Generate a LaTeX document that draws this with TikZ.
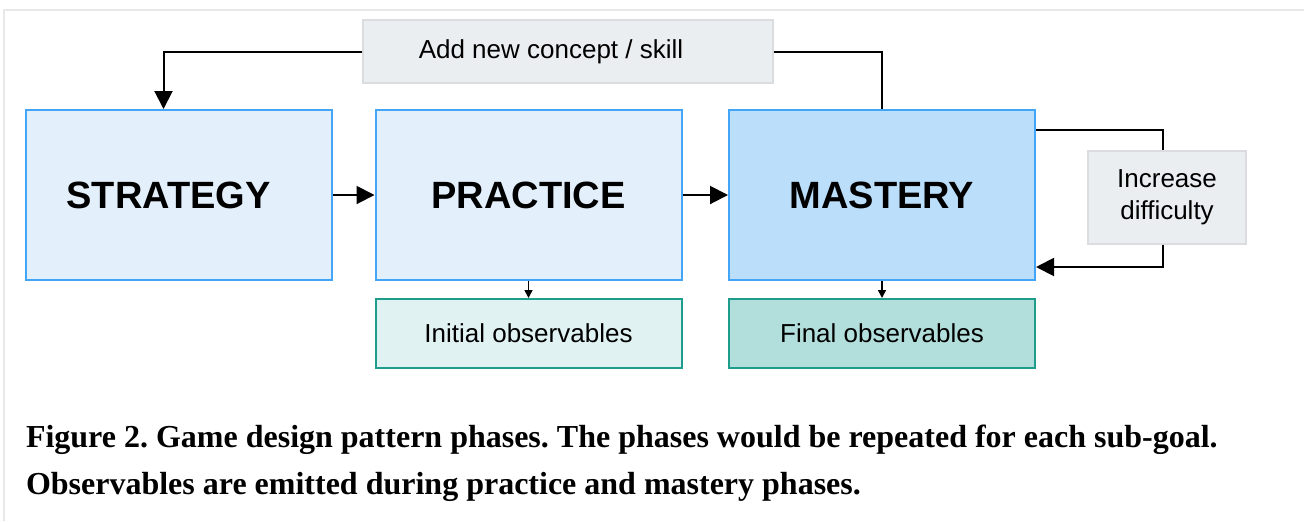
\documentclass[tikz,border=0pt]{standalone}
\usepackage{fontspec}
\setmainfont{Liberation Serif}
\setsansfont{Liberation Sans}
\usetikzlibrary{arrows.meta,positioning}

\definecolor{phaseedge}{HTML}{42A5F5}
\definecolor{stratfill}{HTML}{E3F0FC}
\definecolor{mastfill}{HTML}{BBDEFA}
\definecolor{obsedge}{HTML}{1E9C8C}
\definecolor{initfill}{HTML}{E0F2F1}
\definecolor{finalfill}{HTML}{B2DFDB}
\definecolor{notefill}{HTML}{EBEEF1}
\definecolor{noteedge}{HTML}{DADCDF}
\definecolor{framegray}{HTML}{E8E8E8}

\begin{document}
\frenchspacing
\begin{tikzpicture}[x=0.5pt,y=-0.5pt,line width=1pt,
	>={Triangle[length=9pt,width=9pt]},
	phase/.style={draw=phaseedge,line width=1pt,minimum width=153pt,minimum height=85pt,
		inner sep=0pt,font=\sffamily\bfseries\fontsize{19}{23}\selectfont},
	note/.style={draw=noteedge,fill=notefill,line width=0.6pt,inner sep=0pt,
		font=\sffamily\fontsize{13}{16}\selectfont},
	obs/.style={draw=obsedge,line width=1pt,minimum width=153pt,minimum height=34.5pt,
		inner sep=0pt,font=\sffamily\fontsize{13}{16}\selectfont},
	small/.style={-{Triangle[length=4pt,width=4pt]},line width=0.8pt}]
	
	\useasboundingbox (0,0) rectangle (1304,521);
	\draw[framegray,line width=1pt] (4,521) -- (4,10) -- (1304,10);
	
	\node[phase,fill=stratfill] (strategy) at (178.5,195) {\hspace*{-10pt}STRATEGY};
	\node[phase,fill=stratfill] (practice) at (528.5,195) {PRACTICE};
	\node[phase,fill=mastfill] (mastery) at (882,195) {MASTERY};
	\node[note,minimum width=205pt,minimum height=31.5pt] (concept) at (568,51.5) {\hspace*{-17pt}Add new concept / skill};
	\node[note,minimum width=79pt,minimum height=46.5pt,align=center] (difficulty) at (1167,197.5) {Increase\\difficulty};
	\node[obs,fill=initfill] (initial) at (528.5,333.5) {Initial observables};
	\node[obs,fill=finalfill] (final) at (882,333.5) {Final observables};
	
	\node[anchor=north west,align=left,inner sep=0pt,
		font=\bfseries\fontsize{16}{23.5}\selectfont] (caption) at (25,424)
		{Figure 2. Game design pattern phases. The phases would be repeated for each sub-goal.\\
		Observables are emitted during practice and mastery phases.};
	
	\draw[->] (strategy) -- (practice);
	\draw[->] (practice) -- (mastery);
	\draw (mastery.north) |- (concept.east);
	\draw[->] (concept.west) -| ([xshift=-7.5pt]strategy.north);
	\draw ([yshift=32.5pt]mastery.east) -| ([xshift=-2pt]difficulty.north);
	\draw[->] ([xshift=-2pt]difficulty.south) |- ([yshift=-36pt]mastery.east);
	\draw[small] (practice) -- (initial);
	\draw[small] (mastery) -- (final);
\end{tikzpicture}
\end{document}
